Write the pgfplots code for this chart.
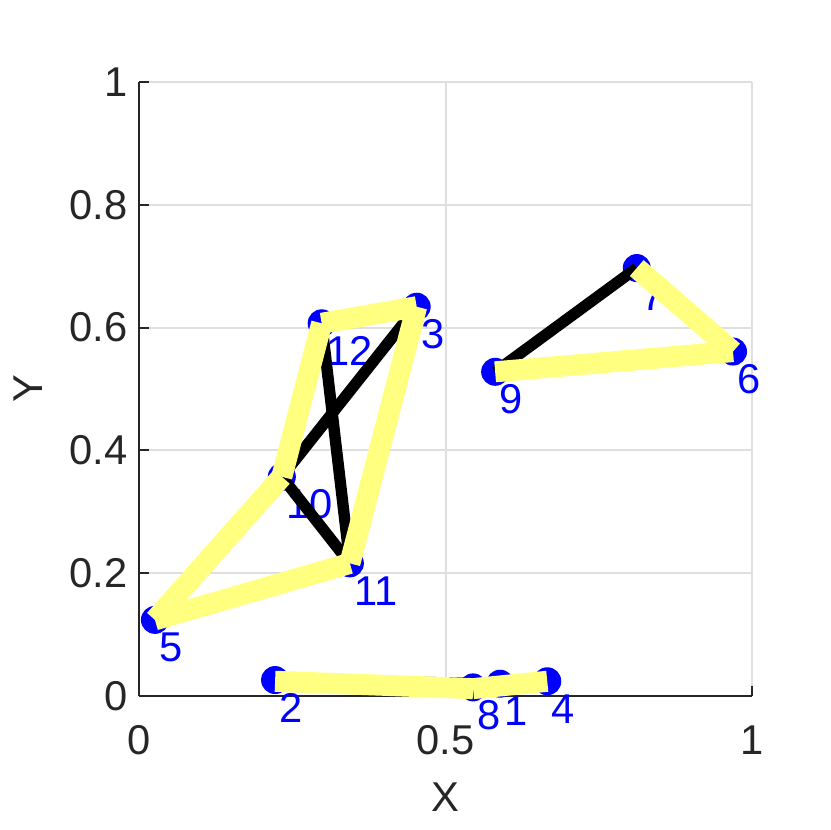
\documentclass[border=0pt]{standalone}
\usepackage{fontspec}
\setmainfont{Liberation Sans}
\usepackage{pgfplots}
\usepackage{pgfplotstable}
\pgfplotsset{compat=1.18}
\definecolor{tickgray}{RGB}{38,38,38}
\definecolor{gridgray}{RGB}{223,223,223}
\definecolor{myyellow}{RGB}{255,255,128}
\definecolor{myblue}{RGB}{0,0,255}

\pgfplotstableread{
x y label
0.589 0.020 1
0.222 0.026 2
0.453 0.634 3
0.666 0.024 4
0.026 0.124 5
0.969 0.561 6
0.812 0.697 7
0.545 0.014 8
0.581 0.528 9
0.233 0.357 10
0.344 0.216 11
0.298 0.607 12
}\nodes

\begin{document}
\fontsize{12.5}{15}\selectfont
\begin{tikzpicture}
\begin{axis}[name=ax, scale only axis, width=183.9pt, height=184.2pt,
  set layers, mark layer=like plot,
  xmin=0, xmax=1, ymin=0, ymax=1,
  axis lines=left, axis line style={-, tickgray, line width=0.6pt},
  xtick={0,0.5,1}, ytick={0,0.2,0.4,0.6,0.8,1},
  grid=major, grid style={gridgray, line width=0.6pt},
  tick align=inside, major tick length=3pt,
  tick style={tickgray, line width=0.6pt},
  ticklabel style={font=\fontsize{12.5}{15}\selectfont, text=tickgray},
  xticklabel style={anchor=center, yshift=-13.2pt},
  yticklabel style={anchor=east, inner sep=0pt, xshift=-3.2pt},
  /pgf/number format/assume math mode=true,
  clip=false]
\addplot[on layer=pre main, only marks, mark=*, mark size=4pt, myblue,
  nodes near coords, point meta=explicit symbolic,
  every node near coord/.style={anchor=west, inner sep=0pt, xshift=1.2pt, yshift=-8.3pt, text=myblue, font=\fontsize{12.5}{15}\selectfont}]
  table[x=x, y=y, meta=label] {\nodes};
% black edges
\addplot[black, line width=3.4pt] coordinates {(0.233,0.357) (0.453,0.634)};
\addplot[black, line width=3.4pt] coordinates {(0.298,0.607) (0.344,0.216)};
\addplot[black, line width=3.4pt] coordinates {(0.233,0.357) (0.344,0.216)};
\addplot[black, line width=3.4pt] coordinates {(0.581,0.528) (0.812,0.697)};
\addplot[black, line width=3.4pt] coordinates {(0.222,0.026) (0.589,0.020)};
% yellow edges
\addplot[myyellow, line width=6.3pt] coordinates {(0.026,0.124) (0.233,0.357)};
\addplot[myyellow, line width=6.3pt] coordinates {(0.233,0.357) (0.298,0.607)};
\addplot[myyellow, line width=6.3pt] coordinates {(0.298,0.607) (0.453,0.634)};
\addplot[myyellow, line width=6.3pt] coordinates {(0.453,0.634) (0.344,0.216)};
\addplot[myyellow, line width=6.3pt] coordinates {(0.344,0.216) (0.026,0.124)};
\addplot[myyellow, line width=6.3pt] coordinates {(0.581,0.528) (0.969,0.561)};
\addplot[myyellow, line width=6.3pt] coordinates {(0.969,0.561) (0.812,0.697)};
\addplot[myyellow, line width=6.3pt] coordinates {(0.222,0.024) (0.545,0.012)};
\addplot[myyellow, line width=6.3pt] coordinates {(0.545,0.012) (0.666,0.024)};
\end{axis}
\node[text=tickgray, rotate=90, anchor=center] at ([xshift=-33.3pt]ax.west) {Y};
\node[text=tickgray, anchor=center] at ([yshift=-30.3pt]ax.south) {X};
\pgfresetboundingbox
\path[use as bounding box] ([shift={(-41.7pt,-40.2pt)}]ax.south west) rectangle ([shift={(23.4pt,24.6pt)}]ax.north east);
\end{tikzpicture}
\end{document}
